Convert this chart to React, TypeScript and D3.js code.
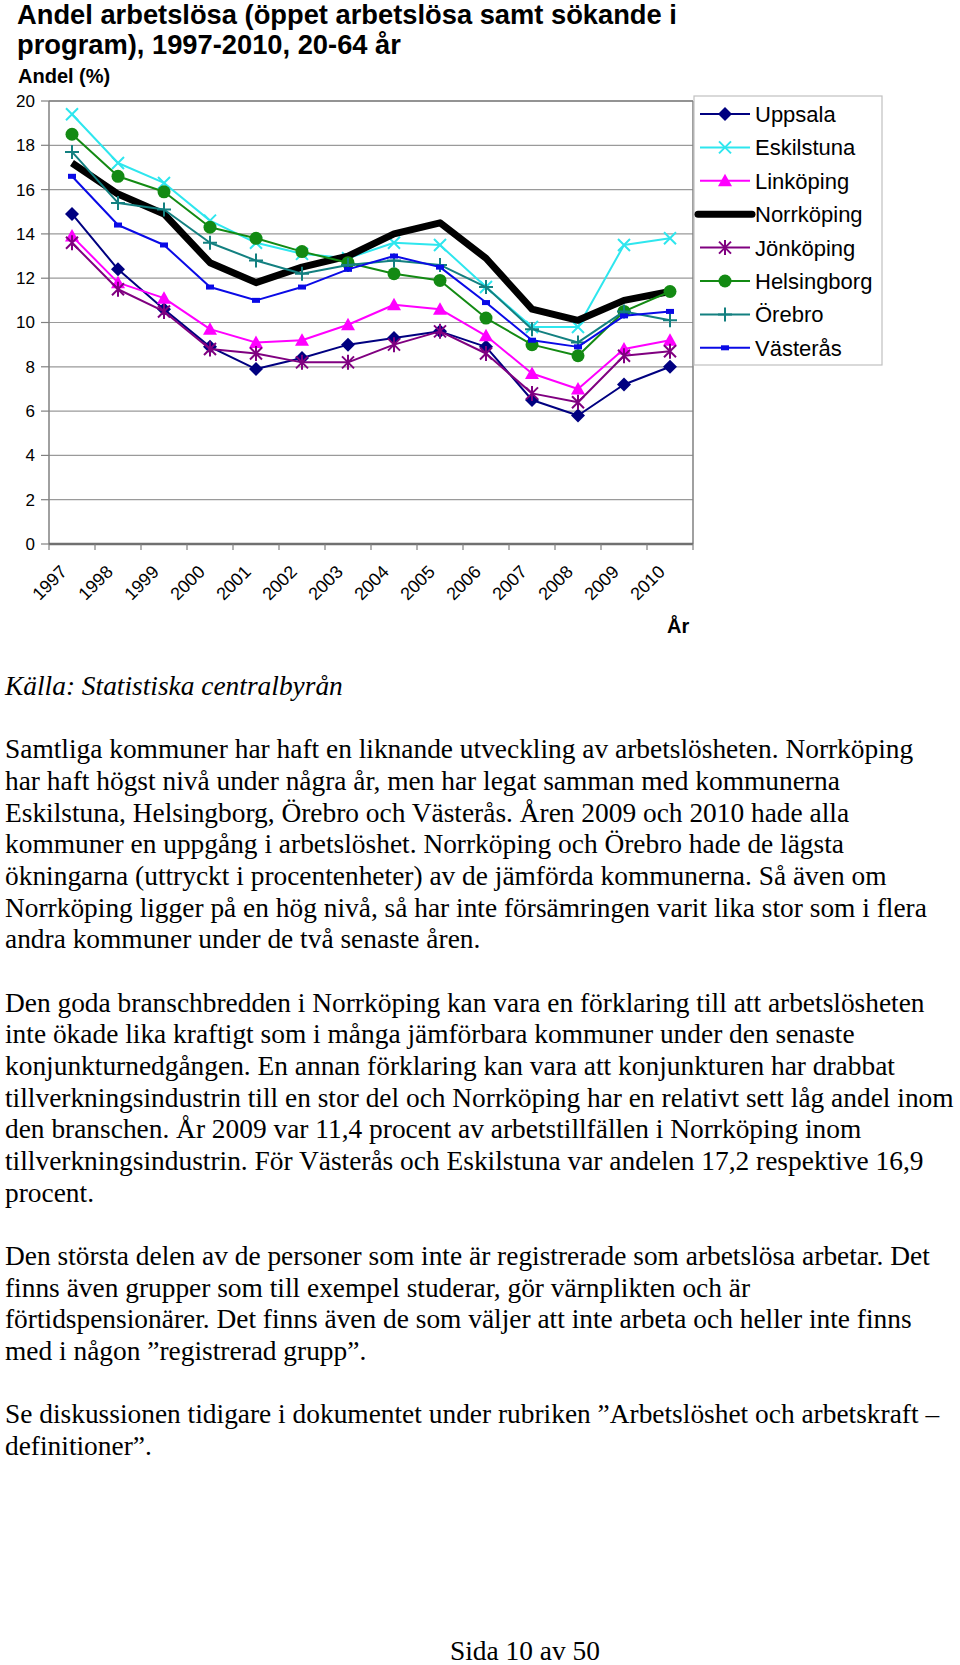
import React from 'react';
import * as d3 from 'd3';

const years = ['1997', '1998', '1999', '2000', '2001', '2002', '2003', '2004', '2005', '2006', '2007', '2008', '2009', '2010'];

const uppsala = [14.9, 12.4, 10.6, 8.9, 7.9, 8.4, 9.0, 9.3, 9.6, 8.9, 6.5, 5.8, 7.2, 8.0];
const eskilstuna = [19.4, 17.2, 16.3, 14.6, 13.6, 13.1, 12.9, 13.6, 13.5, 11.6, 9.8, 9.8, 13.5, 13.8];
const linkoping = [13.9, 11.8, 11.1, 9.7, 9.1, 9.2, 9.9, 10.8, 10.6, 9.4, 7.7, 7.0, 8.8, 9.2];
const norrkoping = [17.2, 15.8, 14.9, 12.7, 11.8, 12.5, 13.0, 14.0, 14.5, 12.9, 10.6, 10.1, 11.0, 11.4];
const jonkoping = [13.6, 11.5, 10.5, 8.8, 8.6, 8.2, 8.2, 9.0, 9.6, 8.6, 6.8, 6.4, 8.5, 8.7];
const helsingborg = [18.5, 16.6, 15.9, 14.3, 13.8, 13.2, 12.7, 12.2, 11.9, 10.2, 9.0, 8.5, 10.5, 11.4];
const orebro = [17.7, 15.4, 15.1, 13.6, 12.8, 12.2, 12.6, 12.8, 12.6, 11.6, 9.7, 9.1, 10.5, 10.1];
const vasteras = [16.6, 14.4, 13.5, 11.6, 11.0, 11.6, 12.4, 13.0, 12.5, 10.9, 9.2, 8.9, 10.3, 10.5];

const seriesNames = ['Uppsala', 'Eskilstuna', 'Linköping', 'Norrköping', 'Jönköping', 'Helsingborg', 'Örebro', 'Västerås'];
const seriesValues = [uppsala, eskilstuna, linkoping, norrkoping, jonkoping, helsingborg, orebro, vasteras];
const seriesColors = ['#000080', '#2EE6EE', '#FF00FF', '#000000', '#800080', '#138A13', '#138080', '#0A0AE6'];
const seriesMarkers = ['diamond', 'x', 'triangle', 'none', 'asterisk', 'circle', 'plus', 'dash'];
const seriesWidths = [2, 2, 2, 7, 2, 2, 2, 2];

const yTicks = [0, 2, 4, 6, 8, 10, 12, 14, 16, 18, 20];

const titleLines = ['Andel arbetslösa (öppet arbetslösa samt sökande i', 'program), 1997-2010, 20-64 år'];
const yAxisTitle = 'Andel (%)';
const xAxisTitle = 'År';
const sourceText = 'Källa: Statistiska centralbyrån';

const paragraphs = [
  [
    'Samtliga kommuner har haft en liknande utveckling av arbetslösheten. Norrköping',
    'har haft högst nivå under några år, men har legat samman med kommunerna',
    'Eskilstuna, Helsingborg, Örebro och Västerås. Åren 2009 och 2010 hade alla',
    'kommuner en uppgång i arbetslöshet. Norrköping och Örebro hade de lägsta',
    'ökningarna (uttryckt i procentenheter) av de jämförda kommunerna. Så även om',
    'Norrköping ligger på en hög nivå, så har inte försämringen varit lika stor som i flera',
    'andra kommuner under de två senaste åren.',
  ],
  [
    'Den goda branschbredden i Norrköping kan vara en förklaring till att arbetslösheten',
    'inte ökade lika kraftigt som i många jämförbara kommuner under den senaste',
    'konjunkturnedgången. En annan förklaring kan vara att konjunkturen har drabbat',
    'tillverkningsindustrin till en stor del och Norrköping har en relativt sett låg andel inom',
    'den branschen. År 2009 var 11,4 procent av arbetstillfällen i Norrköping inom',
    'tillverkningsindustrin. För Västerås och Eskilstuna var andelen 17,2 respektive 16,9',
    'procent.',
  ],
  [
    'Den största delen av de personer som inte är registrerade som arbetslösa arbetar. Det',
    'finns även grupper som till exempel studerar, gör värnplikten och är',
    'förtidspensionärer. Det finns även de som väljer att inte arbeta och heller inte finns',
    'med i någon ”registrerad grupp”.',
  ],
  [
    'Se diskussionen tidigare i dokumentet under rubriken ”Arbetslöshet och arbetskraft –',
    'definitioner”.',
  ],
];
const pageFooter = 'Sida 10 av 50';

function Marker({ type, color, cx, cy }: { type: string; color: string; cx: number; cy: number }) {
  const t = `translate(${cx},${cy})`;
  switch (type) {
    case 'diamond':
      return <path transform={t} d="M0,-7L7,0L0,7L-7,0Z" fill={color} />;
    case 'x':
      return <path transform={t} d="M-6,-6L6,6M-6,6L6,-6" stroke={color} strokeWidth={2} fill="none" />;
    case 'triangle':
      return <path transform={t} d="M0,-7L7,5.5L-7,5.5Z" fill={color} />;
    case 'asterisk':
      return <path transform={t} d="M-6,-6L6,6M-6,6L6,-6M0,-7.5L0,7.5" stroke={color} strokeWidth={2} fill="none" />;
    case 'circle':
      return <circle cx={cx} cy={cy} r={6.5} fill={color} />;
    case 'plus':
      return <path transform={t} d="M-7,0L7,0M0,-7L0,7" stroke={color} strokeWidth={2} fill="none" />;
    case 'dash':
      return <rect x={cx - 4} y={cy - 2.5} width={8} height={5} fill={color} />;
    default:
      return null;
  }
}

export default function App() {
  const left = 49, right = 693, top = 101, bottom = 544;
  const x = d3.scaleBand<string>().domain(years).range([left, right]);
  const y = d3.scaleLinear().domain([0, 20]).range([bottom, top]);
  const cx = (yr: string) => (x(yr) as number) + x.bandwidth() / 2;
  const line = d3
    .line<number>()
    .x((_, i) => cx(years[i]))
    .y((d) => y(d));

  const legendX = 694, legendY = 96, legendW = 188, legendH = 269;
  const legendRowY = (i: number) => 114 + i * 33.4;

  const bodyFont = '"Liberation Serif", "Times New Roman", serif';
  const sansFont = '"Liberation Sans", Arial, sans-serif';
  const lh = 31.67;
  const paraStarts = [758.3, 1011.7, 1265, 1423.3];

  return (
    <svg
      width={960}
      height={1665}
      style={{ position: 'absolute', left: 0, top: 0, background: '#fff' }}
    >
      <rect x={0} y={0} width={960} height={1665} fill="#fff" />
      {/* Title */}
      <g fontFamily={sansFont} fontWeight="bold" fill="#000">
        {titleLines.map((t, i) => (
          <text key={t} x={17} y={24 + i * 30} fontSize={27.3}>
            {t}
          </text>
        ))}
        <text x={18} y={83} fontSize={20}>
          {yAxisTitle}
        </text>
      </g>

      {/* Gridlines */}
      {yTicks.map((v) => (
        <line key={'g' + v} x1={left} x2={right} y1={y(v)} y2={y(v)} stroke="#9a9a9a" strokeWidth={1.2} />
      ))}
      {/* Plot frame */}
      <line x1={left} x2={left} y1={top} y2={bottom} stroke="#808080" strokeWidth={1.5} />
      <line x1={right} x2={right} y1={top} y2={bottom} stroke="#808080" strokeWidth={1.5} />
      <line x1={left} x2={right} y1={top} y2={top} stroke="#808080" strokeWidth={1.5} />
      <line x1={left} x2={right} y1={bottom} y2={bottom} stroke="#707070" strokeWidth={2.5} />

      {/* Y ticks */}
      {yTicks.map((v) => (
        <g key={'yt' + v}>
          <line x1={41} x2={left} y1={y(v)} y2={y(v)} stroke="#808080" strokeWidth={1.2} />
          <text x={35} y={y(v)} dy="0.35em" textAnchor="end" fontFamily={sansFont} fontSize={17} fill="#000">
            {v}
          </text>
        </g>
      ))}

      {/* X ticks */}
      {years.concat(['end']).map((yr, i) => {
        const xx = i < years.length ? (x(yr) as number) : right;
        return <line key={'xt' + i} x1={xx} x2={xx} y1={bottom} y2={bottom + 6} stroke="#808080" strokeWidth={1.2} />;
      })}
      {years.map((yr) => (
        <text
          key={'xl' + yr}
          transform={`translate(${cx(yr) - 4},${573}) rotate(-45)`}
          textAnchor="end"
          fontFamily={sansFont}
          fontSize={18}
          fill="#000"
        >
          {yr}
        </text>
      ))}
      <text x={667} y={633} fontFamily={sansFont} fontWeight="bold" fontSize={20} fill="#000">
        {xAxisTitle}
      </text>

      {/* Series */}
      {seriesValues.map((vals, si) => (
        <g key={seriesNames[si]}>
          <path
            d={line(vals) || ''}
            fill="none"
            stroke={seriesColors[si]}
            strokeWidth={seriesWidths[si]}
            strokeLinejoin="round"
          />
          {vals.map((v, i) => (
            <Marker key={i} type={seriesMarkers[si]} color={seriesColors[si]} cx={cx(years[i])} cy={y(v)} />
          ))}
        </g>
      ))}

      {/* Legend */}
      <rect x={legendX} y={legendY} width={legendW} height={legendH} fill="#fff" stroke="#c0c0c0" strokeWidth={1.2} />
      {seriesNames.map((name, i) => {
        const ly = legendRowY(i);
        return (
          <g key={'lg' + name}>
            <line
              x1={seriesWidths[i] > 3 ? 698 : 700}
              x2={seriesWidths[i] > 3 ? 752 : 750}
              y1={ly}
              y2={ly}
              stroke={seriesColors[i]}
              strokeWidth={seriesWidths[i]}
              strokeLinecap={seriesWidths[i] > 3 ? 'round' : 'butt'}
            />
            <Marker type={seriesMarkers[i]} color={seriesColors[i]} cx={725} cy={ly} />
            <text x={755} y={ly} dy="0.36em" fontFamily={sansFont} fontSize={22} fill="#000">
              {name}
            </text>
          </g>
        );
      })}

      {/* Body text */}
      <g fontFamily={bodyFont} fontSize={27.4} fill="#000">
        <text x={5} y={695} fontStyle="italic">
          {sourceText}
        </text>
        {paragraphs.map((para, pi) =>
          para.map((ln, li) => (
            <text key={pi + '-' + li} x={5} y={paraStarts[pi] + li * lh}>
              {ln}
            </text>
          ))
        )}
        <text x={450} y={1660}>
          {pageFooter}
        </text>
      </g>
    </svg>
  );
}
